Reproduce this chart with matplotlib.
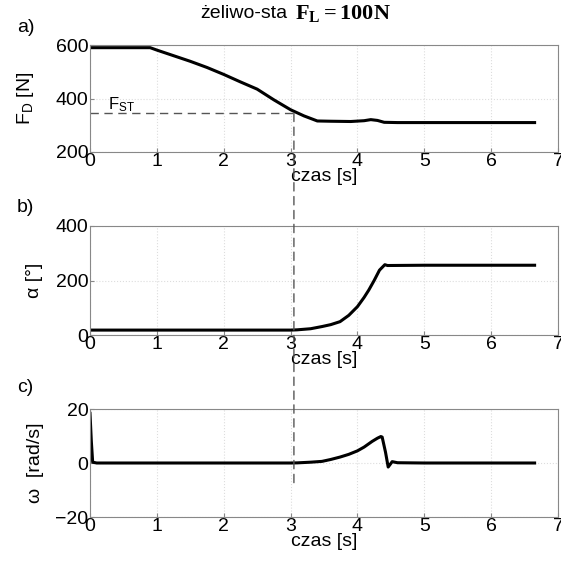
import matplotlib
matplotlib.use("Agg")
import matplotlib.pyplot as plt
from matplotlib.patches import ConnectionPatch

plt.rcParams['font.family'] = ['Liberation Sans', 'DejaVu Sans']
plt.rcParams['mathtext.fontset'] = 'custom'
plt.rcParams['mathtext.rm'] = 'Liberation Sans'
plt.rcParams['mathtext.it'] = 'Liberation Sans'
plt.rcParams['mathtext.bf'] = 'Liberation Serif:bold'

# Panel a: F_D [N]
t_a = [0.0, 0.9, 1.0, 1.25, 1.5, 1.75, 2.0, 2.25, 2.5, 2.75, 3.0, 3.2, 3.4, 3.6, 3.9, 4.1, 4.2, 4.3, 4.4, 4.6, 5.0, 6.0, 6.65]
F_a = [590, 590, 581, 560, 539, 516, 490, 462, 435, 395, 358, 335, 316, 315, 314, 317, 321, 318, 311, 310, 310, 310, 310]

# Panel b: alpha [deg]
t_b = [0.0, 1.0, 2.0, 3.0, 3.1, 3.3, 3.47, 3.6, 3.74, 3.87, 4.0, 4.1, 4.17, 4.25, 4.33, 4.41, 4.45, 5.0, 6.0, 6.65]
a_b = [18, 18, 18, 18, 19, 23, 31, 38, 49, 72, 104, 138, 165, 200, 238, 258, 255, 256, 256, 256]

# Panel c: omega [rad/s]
t_c = [0.0, 0.02, 0.04, 0.1, 1.0, 2.0, 3.0, 3.1, 3.3, 3.47, 3.6, 3.74, 3.87, 4.0, 4.1, 4.22, 4.3, 4.35, 4.37, 4.42, 4.46, 4.49, 4.52, 4.6, 5.0, 6.0, 6.65]
w_c = [18.4, 8, 0.3, 0, 0, 0, 0, 0.05, 0.3, 0.6, 1.3, 2.2, 3.2, 4.5, 5.9, 8.0, 9.2, 9.8, 9.6, 4.0, -1.5, -0.5, 0.5, 0.1, 0, 0, 0]

t_st = 3.05
F_st = 345

W, H = 561, 572
fig = plt.figure(figsize=(W/100, H/100), dpi=100)

def mk(left, top, right, bottom):
    return fig.add_axes([left/W, 1-bottom/H, (right-left)/W, (bottom-top)/H])

ax1 = mk(90, 45, 558, 152)
ax2 = mk(90, 226, 558, 335)
ax3 = mk(90, 409, 558, 517)

fs = 14
for ax in (ax1, ax2, ax3):
    ax.set_xlim(0, 7)
    ax.set_xticks(range(0, 8))
    ax.grid(True, color='#dddddd', linestyle=':', linewidth=0.8)
    ax.tick_params(direction='in', labelsize=fs, length=3, color='#888888', pad=1)
    for s in ax.spines.values():
        s.set_color('#888888')
    ax.set_xlabel('czas [s]', fontsize=fs, labelpad=-2)

ax1.plot(t_a, F_a, color='black', lw=2.2)
ax1.set_ylim(200, 600)
ax1.set_yticks([200, 400, 600])
ax1.set_ylabel('F$_\\mathregular{D}$ [N]', fontsize=fs, labelpad=14)
ax1.plot([0, t_st], [F_st, F_st], color='#555555', lw=1.0, ls=(0, (6, 4)))
ax1.text(0.27, 358, 'F$_\\mathregular{ST}$', fontsize=12)

ax2.plot(t_b, a_b, color='black', lw=2.2)
ax2.set_ylim(0, 400)
ax2.set_yticks([0, 200, 400])
ax2.set_ylabel('α [°]', fontsize=fs, labelpad=9)

ax3.plot(t_c, w_c, color='black', lw=2.2)
ax3.set_ylim(-20, 20)
ax3.set_yticks([-20, 0, 20])
ax3.set_ylabel('ω  [rad/s]', fontsize=fs, labelpad=8)

con = ConnectionPatch(xyA=(t_st, F_st), coordsA=ax1.transData,
                      xyB=(t_st, -8.4), coordsB=ax3.transData,
                      color='#555555', lw=1.0, ls=(0, (6, 4)))
fig.add_artist(con)

fig.text(17/W, 1-27/H, 'a)', fontsize=fs, va='center')
fig.text(17/W, 1-208/H, 'b)', fontsize=fs, va='center')
fig.text(17/W, 1-388/H, 'c)', fontsize=fs, va='center')
fig.text(200/W, 1-13/H, 'żeliwo-sta', fontsize=fs, ha='left', va='center')
fig.text(295/W, 1-13/H, '$\\mathbf{F_L = 100N}$', fontsize=16, ha='left', va='center')

fig.savefig('out.png', dpi=100)
